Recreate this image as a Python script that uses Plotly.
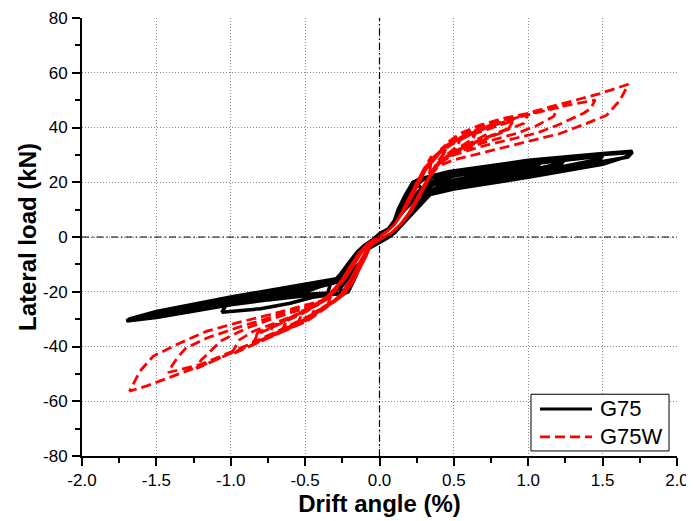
import plotly.graph_objects as go

# ---------------- data ----------------
X_TICKS = [-2.0, -1.5, -1.0, -0.5, 0.0, 0.5, 1.0, 1.5, 2.0]
X_TICK_TEXT = ["-2.0", "-1.5", "-1.0", "-0.5", "0.0", "0.5", "1.0", "1.5", "2.0"]
Y_TICKS = [-80, -60, -40, -20, 0, 20, 40, 60, 80]
Y_TICK_TEXT = ["-80", "-60", "-40", "-20", "0", "20", "40", "60", "80"]
SERIES_NAMES = ["G75", "G75W"]
SERIES_COLORS = ["#000000", "#FF0000"]

# ---- G75 (black): points shared by every cycle near the origin ----
B_POS_START = [(0.0, 1.2), (0.06, 3), (0.1, 6)]
B_POS_END = [(0.1, 1.5), (0.05, -0.5), (0.0, -2.0), (-0.08, -4.5), (-0.12, -9)]
B_NEG_END = [(-0.1, -3), (-0.05, -1.2)]

# ---- G75 positive half-cycles (rise, peak, unloading) ----
G75_POS = [
    [(0.125, 10), (0.17, 15), (0.225, 20), (0.25, 20.3), (0.3, 15.5), (0.26, 11.5), (0.2, 7.5), (0.15, 4.5)],
    [(0.125, 10), (0.17, 15), (0.225, 20), (0.27, 21.2), (0.35, 22.2), (0.34, 19), (0.3, 15), (0.25, 11.5),
     (0.2, 8), (0.15, 4.8)],
    [(0.14, 10), (0.19, 15), (0.24, 19.5), (0.3, 21.5), (0.47, 23.9), (0.5, 24.2), (0.47, 21.8), (0.4, 19),
     (0.34, 16.3), (0.28, 12.2), (0.22, 8.5), (0.16, 5)],
    [(0.15, 10), (0.2, 15), (0.25, 19), (0.3, 21.3), (0.47, 23.5), (0.5, 23.8), (0.47, 21.3), (0.4, 18.5),
     (0.34, 16), (0.27, 11.8), (0.21, 8), (0.15, 4.6)],
    [(0.125, 10), (0.17, 15), (0.225, 20), (0.27, 21.2), (0.47, 23.9), (0.75, 26.0), (0.72, 23.8), (0.5, 20.5),
     (0.34, 16.8), (0.28, 12.5), (0.22, 8.7), (0.16, 5)],
    [(0.18, 10.5), (0.27, 15.5), (0.35, 18.8), (0.5, 22.5), (0.75, 25.4), (0.72, 23.2), (0.5, 20), (0.34, 16.5),
     (0.27, 12), (0.21, 8.2), (0.15, 4.8)],
    [(0.125, 10), (0.17, 15), (0.225, 20), (0.27, 21), (0.47, 23.6), (1.0, 27.8), (0.97, 25.3), (0.5, 19.8),
     (0.34, 16.4), (0.28, 12.3), (0.22, 8.6), (0.16, 5)],
    [(0.2, 12), (0.26, 16.5), (0.33, 19.5), (0.47, 22.8), (1.0, 27.1), (0.97, 24.7), (0.5, 19.3), (0.34, 16.2),
     (0.27, 12), (0.21, 8.3), (0.15, 4.8)],
    [(0.15, 10), (0.2, 15), (0.25, 19), (0.3, 21.3), (0.47, 23.4), (1.0, 27.5), (1.1, 28.2), (1.07, 26.3),
     (1.0, 25.6), (0.5, 20.8), (0.34, 17), (0.28, 12.6), (0.22, 8.8), (0.16, 5)],
    [(0.125, 10), (0.17, 15), (0.225, 20), (0.27, 21), (0.47, 23.5), (1.0, 27.6), (1.25, 29.2), (1.22, 27.0),
     (1.0, 24.2), (0.5, 18.8), (0.34, 16), (0.28, 12.2), (0.22, 8.5), (0.16, 5)],
    [(0.17, 10), (0.23, 14.5), (0.3, 18.5), (0.4, 21.5), (1.0, 27.0), (1.25, 28.7), (1.22, 26.5), (1.0, 23.8),
     (0.5, 18.6), (0.34, 15.9), (0.27, 11.8), (0.21, 8.2), (0.15, 4.8)],
    [(0.125, 10), (0.17, 15), (0.225, 20), (0.27, 21.1), (0.47, 23.7), (1.0, 27.8), (1.5, 30.4), (1.47, 28.3),
     (1.0, 23.2), (0.5, 18.2), (0.34, 15.8), (0.28, 12), (0.22, 8.5), (0.16, 5)],
    [(0.15, 10), (0.2, 15), (0.25, 19), (0.3, 21.2), (0.47, 23.1), (1.0, 27.2), (1.5, 30.0), (1.47, 27.8),
     (1.0, 22.6), (0.5, 17.8), (0.34, 15.6), (0.27, 11.7), (0.21, 8.1), (0.15, 4.7)],
    [(0.18, 10.5), (0.27, 15.5), (0.35, 18.8), (0.5, 22.3), (1.0, 26.6), (1.5, 29.6), (1.47, 27.4),
     (1.25, 25.2), (1.0, 23.6), (0.5, 18.5), (0.34, 15.9), (0.28, 12.1), (0.22, 8.5), (0.16, 5)],
    [(0.125, 10), (0.17, 15), (0.225, 20), (0.27, 21.2), (0.47, 23.9), (1.0, 28.0), (1.5, 30.5), (1.7, 31.3),
     (1.67, 29.5), (1.5, 26.6), (1.0, 21.8), (0.5, 17.5), (0.34, 15.5), (0.28, 12), (0.22, 8.5), (0.16, 5)],
    [(0.2, 12), (0.26, 16.5), (0.33, 19.5), (0.47, 22.9), (1.0, 27.4), (1.5, 30.1), (1.7, 30.9), (1.67, 29.2),
     (1.5, 27.6), (1.25, 25.8), (1.0, 24.9), (0.5, 19.5), (0.34, 16.2), (0.27, 11.9), (0.21, 8.2), (0.15, 4.8)],
]

# ---- G75 negative half-cycles ----
G75_NEG = [
    [(-0.165, -15), (-0.21, -20), (-0.25, -20.6), (-0.27, -17), (-0.25, -13.5), (-0.2, -9.5), (-0.15, -5.5)],
    [(-0.15, -11), (-0.19, -15.5), (-0.23, -19.5), (-0.28, -20.7), (-0.35, -20.8), (-0.33, -17.2),
     (-0.29, -15.3), (-0.245, -12.5), (-0.2, -9), (-0.15, -5.5)],
    [(-0.165, -15), (-0.21, -20), (-0.24, -20.7), (-0.5, -21.2), (-0.47, -19), (-0.4, -17), (-0.29, -15.3),
     (-0.245, -12.5), (-0.2, -9), (-0.15, -5.5)],
    [(-0.16, -11), (-0.21, -15), (-0.26, -18.5), (-0.33, -20.5), (-0.5, -21.0), (-0.47, -19.5), (-0.4, -18),
     (-0.27, -15.5), (-0.23, -12.5), (-0.185, -9), (-0.14, -5.5)],
    [(-0.165, -15), (-0.21, -20), (-0.24, -20.7), (-0.5, -21.5), (-0.75, -23.0), (-0.72, -20.5), (-0.5, -18.2),
     (-0.29, -15.5), (-0.245, -12.5), (-0.2, -9), (-0.15, -5.5)],
    [(-0.15, -11), (-0.19, -15.5), (-0.23, -19.5), (-0.28, -20.7), (-0.5, -21.3), (-0.75, -22.8),
     (-0.72, -21.3), (-0.5, -19.6), (-0.3, -16.5), (-0.25, -16), (-0.21, -12.5), (-0.17, -9), (-0.13, -5.5)],
    [(-0.165, -15), (-0.21, -20), (-0.28, -20.7), (-0.45, -22), (-0.6, -24.2), (-0.8, -26.2), (-1.06, -27.5),
     (-1.03, -24.8), (-0.7, -21.6), (-0.5, -19.2), (-0.29, -15.6), (-0.245, -12.5), (-0.2, -9), (-0.15, -5.5)],
    [(-0.16, -11), (-0.21, -15), (-0.26, -18.5), (-0.33, -20.5), (-0.5, -20.9), (-1.0, -24.5), (-0.97, -22.5),
     (-0.5, -17.9), (-0.29, -15.3), (-0.245, -12.5), (-0.2, -9), (-0.15, -5.5)],
    [(-0.165, -15), (-0.21, -20), (-0.24, -20.6), (-0.5, -21.0), (-1.0, -24.3), (-1.1, -25.2), (-1.07, -23.8),
     (-1.0, -23.2), (-0.5, -19.6), (-0.27, -15.5), (-0.23, -12.5), (-0.185, -9), (-0.14, -5.5)],
    [(-0.165, -15), (-0.21, -20), (-0.24, -20.7), (-0.5, -21.0), (-1.0, -24.6), (-1.25, -27.0), (-1.22, -25.3),
     (-1.0, -22.7), (-0.5, -17.7), (-0.29, -15.3), (-0.245, -12.5), (-0.2, -9), (-0.15, -5.5)],
    [(-0.15, -11), (-0.19, -15.5), (-0.23, -19.5), (-0.28, -20.7), (-0.5, -20.9), (-1.0, -24.3), (-1.25, -26.6),
     (-1.22, -25.7), (-1.0, -23.5), (-0.5, -18.6), (-0.27, -15.5), (-0.23, -12.5), (-0.185, -9), (-0.14, -5.5)],
    [(-0.165, -15), (-0.21, -20), (-0.24, -20.7), (-0.5, -21.1), (-1.0, -24.7), (-1.5, -29.3), (-1.47, -27.6),
     (-1.0, -22.3), (-0.5, -17.5), (-0.29, -15.2), (-0.245, -12.5), (-0.2, -9), (-0.15, -5.5)],
    [(-0.16, -11), (-0.21, -15), (-0.26, -18.5), (-0.33, -20.5), (-0.5, -20.9), (-1.0, -24.4), (-1.5, -29.0),
     (-1.47, -27.3), (-1.0, -22.0), (-0.5, -17.4), (-0.29, -15.2), (-0.245, -12.5), (-0.2, -9), (-0.15, -5.5)],
    [(-0.165, -15), (-0.21, -20), (-0.24, -20.6), (-0.5, -20.8), (-1.0, -24.0), (-1.5, -28.6), (-1.47, -28.0),
     (-1.25, -25.8), (-1.0, -23.4), (-0.5, -18.3), (-0.25, -16), (-0.21, -12.5), (-0.17, -9), (-0.13, -5.5)],
    [(-0.165, -15), (-0.21, -20), (-0.24, -20.7), (-0.5, -21.1), (-1.0, -24.8), (-1.5, -29.4), (-1.7, -30.7),
     (-1.68, -29.9), (-1.5, -27.2), (-1.0, -21.9), (-0.5, -17.4), (-0.29, -15.2), (-0.245, -12.5), (-0.2, -9),
     (-0.15, -5.5)],
    [(-0.15, -11), (-0.19, -15.5), (-0.23, -19.5), (-0.28, -20.7), (-0.5, -21.0), (-1.0, -24.6), (-1.5, -29.2),
     (-1.7, -30.4), (-1.68, -30.2), (-1.5, -28.3), (-1.0, -23.0), (-0.5, -18.8), (-0.27, -15.5), (-0.23, -12.5),
     (-0.185, -9), (-0.14, -5.5)],
]

# ---- G75W (red): points shared near the origin, two alternating variants ----
R_POS_START = [(0.0, 0.3), (0.05, 2), (0.1, 4.5)]
R_POS_RISE = [[(0.15, 9), (0.2, 14.5), (0.25, 20), (0.3, 25)],
              [(0.17, 10), (0.22, 15), (0.27, 20.5), (0.31, 24.5)]]
R_POS_FALL = [[(0.33, 21), (0.27, 15), (0.22, 10), (0.15, 5)],
              [(0.31, 20), (0.25, 14), (0.2, 9), (0.14, 4.5)]]
R_POS_END = [(0.08, 1.5), (0.0, -1), (-0.06, -3)]
R_NEG_FALL = [[(-0.1, -6), (-0.15, -11), (-0.2, -16), (-0.26, -21), (-0.3, -23)],
              [(-0.09, -7), (-0.13, -11.5), (-0.18, -16.5), (-0.24, -21), (-0.3, -23.5)]]
R_NEG_RISE = [[(-0.25, -15.5), (-0.2, -11), (-0.14, -6), (-0.08, -2.5)],
              [(-0.23, -15), (-0.17, -10), (-0.12, -5.5), (-0.07, -2.5)]]
R_NEG_END = [(-0.03, -0.8)]

# ---- G75W positive half-cycles ----
G75W_POS = [
    [(0.35, 29.5), (0.345, 26.5)],
    [(0.37, 29.5), (0.45, 33.5), (0.43, 30.5), (0.38, 26.5)],
    [(0.37, 29), (0.45, 32.8), (0.43, 30), (0.38, 26)],
    [(0.38, 30), (0.46, 33.8), (0.55, 36.5), (0.52, 33), (0.45, 30), (0.38, 26)],
    [(0.4, 31), (0.52, 35.8), (0.65, 39), (0.62, 35.5), (0.5, 31.5), (0.4, 27.5), (0.36, 24)],
    [(0.4, 30.5), (0.52, 35.2), (0.65, 38.3), (0.62, 35), (0.5, 31), (0.4, 27), (0.36, 23.5)],
    [(0.42, 32), (0.55, 36.5), (0.75, 41), (0.72, 37.5), (0.6, 34), (0.48, 30.5), (0.4, 27), (0.36, 24)],
    [(0.42, 32.5), (0.6, 37.5), (0.9, 43.2), (0.86, 39.5), (0.7, 36), (0.55, 32.5), (0.42, 28), (0.36, 24)],
    [(0.42, 32), (0.6, 37), (0.9, 42.5), (0.86, 39), (0.7, 35.5), (0.55, 32), (0.42, 27.5), (0.36, 23.5)],
    [(0.45, 33.5), (0.7, 39.5), (1.0, 45), (0.97, 41.5), (0.8, 38), (0.6, 33.5), (0.45, 29.5), (0.38, 25.5)],
    [(0.45, 33.8), (0.7, 40), (0.95, 44), (1.2, 47.3), (1.17, 44), (1.05, 40.5), (0.93, 38), (0.7, 34.5),
     (0.5, 30.5), (0.38, 26)],
    [(0.45, 34), (0.68, 40.5), (0.99, 44.8), (1.2, 47.5), (1.45, 50), (1.42, 47), (1.375, 45.3), (1.2, 40.9),
     (1.06, 38), (0.9, 36), (0.7, 33.3), (0.5, 30), (0.38, 26.3)],
    [(0.36, 28.1), (0.45, 34.2), (0.54, 37.8), (0.676, 40.9), (0.83, 43.3), (0.99, 45.1), (1.147, 47.5),
     (1.326, 50), (1.483, 52.4), (1.6, 54.5), (1.673, 55.8), (1.617, 50), (1.528, 44.5), (1.393, 41.5),
     (1.214, 37.8), (1.034, 35.4), (0.855, 33), (0.676, 30.5), (0.496, 28.1), (0.385, 25.7)],
]
# ---- G75W negative half-cycles ----
G75W_NEG = [
    [(-0.35, -25), (-0.33, -22), (-0.29, -18.5)],
    [(-0.45, -28.5), (-0.42, -25), (-0.33, -21.5), (-0.28, -18)],
    [(-0.45, -28), (-0.42, -24.5), (-0.33, -21), (-0.28, -17.5)],
    [(-0.4, -27), (-0.55, -31.5), (-0.52, -28), (-0.42, -24.5), (-0.32, -20.5)],
    [(-0.45, -28.5), (-0.65, -34), (-0.62, -30.5), (-0.5, -27), (-0.38, -23.5), (-0.3, -19.5)],
    [(-0.45, -28.2), (-0.65, -33.5), (-0.62, -30), (-0.5, -26.5), (-0.38, -23), (-0.3, -19)],
    [(-0.45, -28.8), (-0.6, -32.5), (-0.75, -36.5), (-0.72, -33), (-0.6, -29.5), (-0.45, -25.5), (-0.33, -21.5)],
    [(-0.5, -30), (-0.7, -35), (-0.85, -39), (-0.82, -35.5), (-0.68, -32), (-0.5, -27.5), (-0.35, -22.5)],
    [(-0.5, -29.8), (-0.7, -34.6), (-0.85, -38.5), (-0.82, -35), (-0.68, -31.5), (-0.5, -27), (-0.35, -22)],
    [(-0.5, -30.5), (-0.75, -37), (-1.0, -43), (-0.97, -40), (-0.94, -37.5), (-0.85, -34.5), (-0.68, -31),
     (-0.5, -27.2), (-0.36, -23)],
    [(-0.5, -30.8), (-0.75, -37), (-1.0, -42.5), (-1.23, -48), (-1.2, -45), (-1.16, -43), (-1.07, -38.1),
     (-0.89, -33.2), (-0.7, -29.5), (-0.5, -26), (-0.36, -22.5)],
    [(-0.49, -30.8), (-0.67, -35), (-0.85, -38.7), (-1.0, -42), (-1.2, -46.5), (-1.42, -49.5), (-1.39, -46.6),
     (-1.35, -43.5), (-1.3, -40.5), (-1.16, -36.9), (-0.95, -33), (-0.74, -29.5), (-0.55, -26.5), (-0.38, -23)],
    [(-0.36, -25.9), (-0.49, -30.8), (-0.67, -35), (-0.85, -38.7), (-0.98, -41.7), (-1.12, -45.4), (-1.3, -49),
     (-1.45, -52), (-1.57, -54.5), (-1.68, -56.3), (-1.61, -49), (-1.52, -43.5), (-1.34, -38.7), (-1.16, -34.4),
     (-0.96, -31.4), (-0.74, -28.4), (-0.56, -25.9), (-0.4, -23.5), (-0.3, -20)],
]


def build_g75():
    pts = []
    for pc, nc in zip(G75_POS, G75_NEG):
        pts += B_POS_START + pc + B_POS_END + nc + B_NEG_END
    return [p[0] for p in pts], [p[1] for p in pts]


def build_g75w():
    pts = []
    for k, (pc, nc) in enumerate(zip(G75W_POS, G75W_NEG)):
        v = k % 2
        pts += (R_POS_START + R_POS_RISE[v] + pc + R_POS_FALL[v] + R_POS_END
                + R_NEG_FALL[v] + nc + R_NEG_RISE[v] + R_NEG_END)
    return [p[0] for p in pts], [p[1] for p in pts]


g75_x, g75_y = build_g75()
g75w_x, g75w_y = build_g75w()

# ---------------- figure ----------------
FONT = "Liberation Sans, Arial, sans-serif"
RED_DASH = "10px,5px"
ZERO_DASH = "7px,3px,1.5px,3px"

fig = go.Figure()
fig.add_trace(go.Scatter(x=g75_x, y=g75_y, mode="lines", name=SERIES_NAMES[0], showlegend=False,
                         line=dict(color=SERIES_COLORS[0], width=3.5)))
fig.add_trace(go.Scatter(x=g75w_x, y=g75w_y, mode="lines", name=SERIES_NAMES[1], showlegend=False,
                         line=dict(color=SERIES_COLORS[1], width=2.8, dash=RED_DASH)))

# dash-dot reference lines through the origin
fig.add_shape(type="line", xref="x", yref="y", x0=0, x1=0, y0=-80, y1=80,
              line=dict(color="black", width=1.2, dash=ZERO_DASH))
fig.add_shape(type="line", xref="x", yref="y", x0=-2, x1=2, y0=0, y1=0,
              line=dict(color="black", width=1.2, dash=ZERO_DASH))

# legend box (paper coordinates, lower-right corner of the plot)
fig.add_shape(type="rect", xref="paper", yref="paper", x0=0.7546, x1=0.9866, y0=0.0115, y1=0.141,
              line=dict(color="black", width=1), fillcolor="white", layer="above")
legend_rows = [0.1075, 0.0435]
for name, color, dash, yy in zip(SERIES_NAMES, SERIES_COLORS, ["solid", RED_DASH], legend_rows):
    fig.add_shape(type="line", xref="paper", yref="paper", x0=0.7697, x1=0.8571, y0=yy, y1=yy,
                  line=dict(color=color, width=3 if dash == "solid" else 2.8, dash=dash), layer="above")
    fig.add_annotation(xref="paper", yref="paper", x=0.868, y=yy, xanchor="left", yanchor="middle",
                       text=name, showarrow=False,
                       font=dict(family=FONT, size=22, color="black"))

axis_common = dict(
    showline=True, linecolor="black", linewidth=2,
    ticks="outside", ticklen=8, tickwidth=2, tickcolor="black",
    showgrid=True, gridcolor="#8a8a8a", gridwidth=1, griddash="1px,2px",
    zeroline=False, mirror=False, ticklabeloverflow="allow",
    tickfont=dict(family=FONT, size=17, color="black"),
)

fig.update_xaxes(
    range=[-2, 2], tickvals=X_TICKS, ticktext=X_TICK_TEXT, ticklabelstandoff=0,
    minor=dict(ticks="outside", ticklen=5, tickwidth=1.5, tickcolor="black",
               dtick=0.25, showgrid=False),
    title=dict(text="<b>Drift angle (%)</b>", font=dict(family=FONT, size=24, color="black"),
               standoff=0),
    **axis_common,
)
fig.update_yaxes(
    range=[-80, 80], tickvals=Y_TICKS, ticktext=Y_TICK_TEXT, ticklabelstandoff=1,
    minor=dict(ticks="outside", ticklen=5, tickwidth=1.5, tickcolor="black",
               dtick=10, showgrid=False),
    title=dict(text="<b>Lateral load (kN)</b>", font=dict(family=FONT, size=24, color="black"),
               standoff=0),
    **axis_common,
)

# the page has an 8px body margin, so the figure is sized to fit inside it
fig.update_layout(
    width=686, height=513,
    margin=dict(l=74, r=17, t=10, b=65, autoexpand=False),
    plot_bgcolor="white", paper_bgcolor="white",
    showlegend=False,
)

fig.write_html("out.html")
